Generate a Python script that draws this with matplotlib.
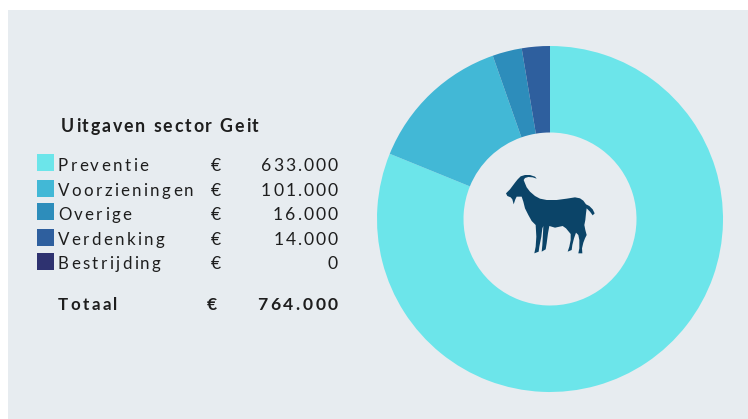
import matplotlib
matplotlib.use("Agg")
import matplotlib.pyplot as plt
from matplotlib.patches import Polygon, Rectangle
from matplotlib.text import Text
from matplotlib.transforms import IdentityTransform

title = "Uitgaven sector Geit"
categories = ["Preventie", "Voorzieningen", "Overige", "Verdenking", "Bestrijding"]
value_labels = ["633.000", "101.000", "16.000", "14.000", "0"]
total_label = "764.000"
# slices as measured on the ring, they are a bit off from the printed amounts
slice_values = [620, 103, 21, 20, 0]
colors = ["#6CE5EA", "#42B8D6", "#2D8DBB", "#2E5F9E", "#2E3270"]

# goat icon outline, traced in reference pixels (3x crop at 480,150)
goat_outline = [(78, 130), (90, 118), (105, 98), (113, 88), (122, 79), (135, 75), (150, 75), (165, 80), (170, 86),
                (158, 82), (145, 81), (135, 84), (131, 90), (135, 100), (140, 112), (150, 125), (165, 138),
                (180, 146), (200, 150), (230, 150), (260, 146), (285, 142), (300, 145), (310, 152), (318, 163),
                (328, 168), (338, 178), (344, 190), (338, 196), (330, 185), (320, 175), (318, 190), (316, 210),
                (313, 225), (316, 240), (320, 255), (315, 265), (310, 278), (306, 295), (307, 310), (295, 310),
                (298, 295), (298, 270), (295, 255), (288, 248), (282, 265), (277, 285), (275, 300), (263, 305),
                (268, 290), (272, 270), (272, 252), (258, 235), (248, 228), (225, 233), (208, 228), (204, 250),
                (200, 280), (197, 298), (185, 305), (187, 285), (189, 250), (190, 228), (187, 235), (184, 260),
                (178, 290), (176, 305), (163, 310), (167, 290), (169, 260), (167, 225), (155, 213), (145, 195),
                (135, 175), (130, 155), (125, 140), (110, 140), (106, 148), (101, 163), (97, 148), (92, 142),
                (82, 138)]


class SpacedText(Text):
    # matplotlib has no letter spacing, so draw the string glyph by glyph
    def __init__(self, *args, spacing=0, **kwargs):
        super().__init__(*args, **kwargs)
        self.spacing = spacing

    def draw(self, renderer):
        s = self.get_text()
        fp = self.get_fontproperties()
        x0, y0 = self.get_transform().transform(self.get_position())
        width = lambda t: renderer.get_text_width_height_descent(t, fp, False)[0] if t else 0
        if self.get_ha() == "right":
            x0 -= width(s) + self.spacing * (len(s) - 1)
        for i, c in enumerate(s):
            Text(x0 + width(s[:i]) + self.spacing * i, y0, c, fontproperties=fp, color=self.get_color(),
                 va="baseline", transform=IdentityTransform(), figure=self.figure).draw(renderer)


W, H = 748, 419
fig = plt.figure(figsize=(W / 100, H / 100), dpi=100, facecolor="white")
ax = fig.add_axes([0, 0, 1, 1])
ax.set_xlim(0, W)
ax.set_ylim(H, 0)
ax.axis("off")
ax.add_patch(Rectangle((8, 10), W - 8, H - 10, color="#E7ECF0", lw=0))


def label(x, y, s, bold=False, ha="left", spacing=2.3, size=12.2):
    t = SpacedText(x, y, s, spacing=spacing, family="Lato", fontsize=size, color="#1E1E1E",
                   fontweight="bold" if bold else "normal", ha=ha, va="baseline", transform=ax.transData)
    ax.add_artist(t)


label(61, 132, title, bold=True, spacing=1.8, size=12.8)

swatch_tops = [154, 180, 203, 229, 253]
baselines = [171, 196, 220, 245, 269]
for name, val, col, top, base in zip(categories, value_labels, colors, swatch_tops, baselines):
    ax.add_patch(Rectangle((37, top), 17, 17, color=col, lw=0))
    label(58, base, name)
    label(211, base, "€", spacing=0, size=12.6)
    label(338, base, val, ha="right", spacing=2.0, size=12.6)

label(58, 310, "Totaal", bold=True, spacing=2.4)
label(207, 310, "€", bold=True, spacing=0, size=12.6)
label(338, 310, total_label, bold=True, ha="right", spacing=2.6, size=12.6)

# ring
cx, cy, r = 550, 219, 173
pie_ax = fig.add_axes([(cx - r) / W, 1 - (cy + r) / H, 2 * r / W, 2 * r / H])
pie_ax.pie(slice_values, colors=colors, startangle=90, counterclock=False, radius=1,
           wedgeprops={"width": 86.5 / 173, "linewidth": 0})
pie_ax.set_xlim(-1, 1)
pie_ax.set_ylim(-1, 1)

pie_ax.patch.set_visible(False)
goat_pts = [((480 + x / 3 - cx) / r, (cy - 150 - y / 3) / r) for x, y in goat_outline]
pie_ax.add_patch(Polygon(goat_pts, closed=True, facecolor="#0B4468", edgecolor="none"))

fig.savefig("out.png", dpi=100)
